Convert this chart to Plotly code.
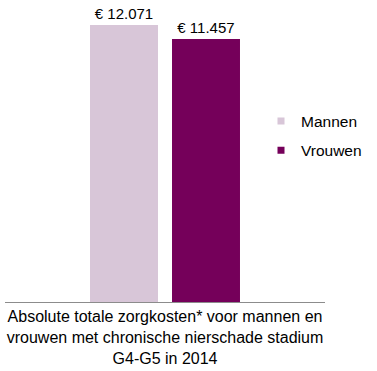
import plotly.graph_objects as go

categories = ["Absolute totale zorgkosten* voor mannen en<br>vrouwen met chronische nierschade stadium<br>G4-G5 in 2014"]
series_names = ["Mannen", "Vrouwen"]
values_mannen = [12071]
values_vrouwen = [11457]
labels_mannen = ["€ 12.071"]
labels_vrouwen = ["€ 11.457"]
colors = ["#D8C6D8", "#75005A"]

FONT = "Liberation Sans, Arial, sans-serif"

fig = go.Figure()
for name, vals, labs, col in [
    (series_names[0], values_mannen, labels_mannen, colors[0]),
    (series_names[1], values_vrouwen, labels_vrouwen, colors[1]),
]:
    fig.add_trace(go.Bar(
        x=categories, y=vals, name=name, marker=dict(color=col, line=dict(width=0)),
        text=labs, textposition="outside", cliponaxis=False, constraintext="none",
        textfont=dict(family=FONT, size=15, color="#000000"),
        showlegend=False,
    ))
    fig.add_trace(go.Scatter(
        x=[None], y=[None], mode="markers", name=name, legendgroup=name,
        marker=dict(symbol="square", size=7, color=col),
    ))

fig.update_layout(
    template="none",
    width=377, height=371,
    margin=dict(l=5, r=52, t=0, b=69, autoexpand=False),
    paper_bgcolor="white", plot_bgcolor="white",
    barmode="group", bargap=0.4875, bargroupgap=0.171,
    font=dict(family=FONT, size=16, color="#000000"),
    legend=dict(x=0.8, y=0.55, xanchor="left", yanchor="middle",
                traceorder="grouped", tracegroupgap=6,
                font=dict(family=FONT, size=15.5, color="#000000"),
                bgcolor="rgba(0,0,0,0)", itemwidth=30),
    xaxis=dict(showgrid=False, showline=True, linecolor="#8C8C8C", linewidth=1,
               ticks="", automargin=False, zeroline=False,
               tickfont=dict(family=FONT, size=16, color="#000000")),
    yaxis=dict(visible=False, range=[0, 13161], showgrid=False, zeroline=False,
               automargin=False),
)

fig.write_html("out.html", config={"displayModeBar": False},
               post_script="document.body.style.margin='0';")
